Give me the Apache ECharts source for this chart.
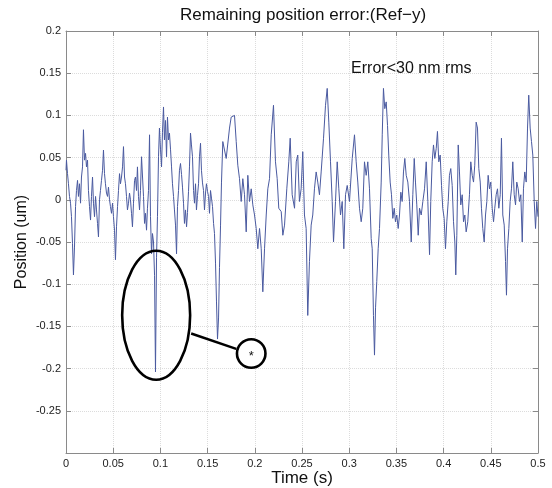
<!DOCTYPE html>
<html>
<head>
<meta charset="utf-8">
<script src="https://cdn.jsdelivr.net/npm/echarts@6/dist/echarts.min.js"></script>
<style>html,body{margin:0;padding:0;background:#fff}#c{width:552px;height:488px}</style>
</head>
<body>
<div id="c"></div>
<script>
// ---- Data (time in s, position error in um) ----
const time1 = [0,0.0005,0.0016,0.0026,0.0037,0.0048,0.0058,0.0069,0.0079,0.0090,0.0101,0.0111,0.0122,0.0132,0.0143,0.0154,0.0164,0.0175,0.0185,0.0196,0.0207,0.0217,0.0228,0.0238,0.0249,0.0260,0.0270,0.0281,0.0291,0.0302,0.0313,0.0323,0.0334,0.0344,0.0355,0.0365,0.0376,0.0387,0.0397,0.0408,0.0418,0.0429,0.0440,0.0450,0.0461,0.0471,0.0482,0.0493,0.0503,0.0514,0.0524,0.0535,0.0546,0.0556,0.0567,0.0577,0.0588,0.0599,0.0609,0.0620,0.0630,0.0641,0.0651,0.0662,0.0673,0.0683,0.0694,0.0704,0.0715,0.0726,0.0736,0.0747,0.0757,0.0768,0.0779,0.0789,0.0800];
const err1 = [0.035,0.047,0.031,0.019,0.004,-0.004,-0.02,-0.052,-0.089,-0.056,-0.008,0.011,0.023,0.004,0.019,-0.004,0.027,0.039,0.083,0.047,0.055,0.039,0.047,0.011,-0.008,-0.024,0.004,0.027,-0.004,-0.02,0.004,-0.012,-0.028,-0.044,0,0.011,0.023,0.035,0.059,0.031,0.019,0.008,0.004,0.015,0,-0.008,-0.016,-0.004,-0.02,-0.036,-0.071,-0.032,-0.008,0.011,0.031,0.019,0.027,0.039,0.063,0.027,0.019,0.004,-0.012,-0.004,0.008,0,-0.016,-0.032,-0.004,0.023,0.027,0.011,0.039,0.004,-0.012,0.011,0.051];

const time2 = [0.0810,0.0821,0.0832,0.0842,0.0853,0.0863,0.0874,0.0885,0.0895,0.0906,0.0916,0.0927,0.0938,0.0948,0.0959,0.0969,0.0980,0.0990,0.1001,0.1012,0.1022,0.1033,0.1043,0.1054,0.1065,0.1075,0.1086,0.1096,0.1107,0.1118,0.1128,0.1139,0.1149,0.1160,0.1171,0.1181,0.1192,0.1202,0.1213,0.1224,0.1234,0.1245,0.1255,0.1266,0.1277,0.1287,0.1298,0.1308,0.1319,0.1329,0.1340,0.1351,0.1361,0.1372,0.1382,0.1393,0.1404,0.1414,0.1425,0.1435,0.1446,0.1457,0.1467,0.1478,0.1488,0.1499,0.1510,0.1520,0.1531,0.1541,0.1552,0.1563,0.1573,0.1584,0.1594,0.1605,0.1616,0.1626,0.1637,0.1647];
const err2 = [0.051,0.004,-0.028,-0.016,-0.036,-0.01,0.011,0.077,-0.02,-0.064,-0.04,-0.05,-0.09,-0.204,-0.068,-0.02,0.051,0.085,0.06,0.039,0.08,0.110,0.071,0.094,0.051,0.098,0.071,0.079,0.06,0.039,0.019,0.004,-0.012,-0.03,-0.064,-0.008,0.011,0.035,0.043,0.03,0.015,-0.004,-0.028,-0.012,-0.032,-0.015,0.01,0.039,0.079,0.065,0.051,0.011,-0.004,0.019,-0.012,0.005,0.019,0.051,0.067,0.035,0.02,0.011,-0.012,0.008,0.019,0.01,0.004,-0.016,0.011,0.002,-0.008,-0.028,-0.04,-0.075,-0.12,-0.165,-0.14,-0.08,-0.03,0.02];

const time3 = [0.1661,0.1697,0.1732,0.1750,0.1785,0.1803,0.1820,0.1838,0.1856,0.1873,0.1891,0.1909,0.1926,0.1944,0.1962,0.1979,0.1997,0.2015,0.2032,0.2050,0.2068,0.2085,0.2103,0.2121,0.2138,0.2156,0.2174,0.2198,0.2219,0.2237,0.2254,0.2280,0.2297,0.2315,0.2339,0.2360,0.2375,0.2396,0.2421,0.2439,0.2455,0.2473,0.2491,0.2508,0.2526,0.2544,0.2561,0.2579,0.2597,0.2614,0.2632,0.2650,0.2667,0.2685,0.2703,0.2728,0.2749,0.2767,0.2784,0.2802,0.2820,0.2834,0.2855,0.2873,0.2890,0.2908,0.2926,0.2943,0.2961,0.2979,0.3003,0.3032,0.3056,0.3074,0.3091];
const err3 = [0.069,0.049,0.085,0.098,0.100,0.069,0.041,0.025,-0.002,0.025,0.006,-0.038,0.029,-0.002,0.013,-0.006,-0.018,-0.034,-0.058,-0.034,-0.058,-0.109,-0.058,-0.018,0.013,0.025,0.077,0.112,0.045,0.025,-0.010,-0.014,-0.042,-0.030,0.013,0.045,0.073,0.006,-0.010,0.045,0.053,-0.002,0.013,0.057,-0.018,-0.034,-0.137,-0.073,-0.030,-0.018,0.013,0.033,0.021,0.006,0.033,0.073,0.112,0.132,0.092,0.045,-0.002,-0.050,-0.002,0.045,0.013,-0.018,-0.002,-0.058,0.006,0.017,-0.002,0.049,0.077,0.045,0.021];

const time4 = [0.3109,0.3127,0.3144,0.3162,0.3180,0.3197,0.3215,0.3233,0.3244,0.3257,0.3268,0.3279,0.3292,0.3307,0.3321,0.3339,0.3350,0.3363,0.3377,0.3392,0.3406,0.3419,0.3434,0.3448,0.3462,0.3477,0.3490,0.3504,0.3519,0.3533,0.3547,0.3561,0.3575,0.3589,0.3604,0.3621,0.3639,0.3657,0.3674,0.3689,0.3702,0.3716,0.3731,0.3745,0.3763,0.3780,0.3798,0.3816,0.3833,0.3851,0.3864,0.3879,0.3893,0.3907,0.3922,0.3935,0.3949,0.3964,0.3978,0.3991,0.4006,0.4020,0.4034,0.4049,0.4062,0.4076,0.4091,0.4105,0.4119,0.4129,0.4140,0.4155,0.4168,0.4182,0.4197,0.4211,0.4225,0.4239,0.4256,0.4274,0.4288,0.4303,0.4317,0.4330,0.4345,0.4359,0.4373,0.4388,0.4401,0.4415,0.4430,0.4444,0.4458,0.4472,0.4486,0.4500,0.4515,0.4529,0.4542,0.4557,0.4571,0.4585,0.4600,0.4613,0.4627,0.4642,0.4656,0.4666,0.4677,0.4691,0.4705,0.4719,0.4733,0.4748,0.4762,0.4775,0.4790,0.4804,0.4818,0.4833,0.4846,0.4860,0.4875,0.4889,0.4902,0.4917,0.4931,0.4945,0.4960,0.4974,0.4987,0.5];
const err4 = [-0.010,-0.026,-0.010,0.045,0.029,0.045,0.013,-0.046,-0.058,-0.137,-0.184,-0.128,-0.097,-0.058,-0.034,0.021,0.077,0.132,0.108,0.116,0.088,0.053,0.021,0.006,-0.022,-0.010,-0.026,-0.018,-0.034,-0.018,0.009,-0.002,0.033,0.049,0.029,0.021,-0.002,-0.050,0.006,0.049,0.021,-0.006,-0.042,-0.010,-0.018,-0.002,0.013,0.045,-0.002,-0.065,-0.002,0.045,0.065,0.049,0.061,0.081,0.045,0.053,0.017,-0.010,-0.022,-0.058,-0.026,-0.002,0.029,0.037,0.017,-0.026,-0.050,-0.089,-0.042,0.065,0.033,-0.006,0.006,-0.026,-0.018,-0.038,-0.026,0.006,0.045,0.029,0.021,0.041,0.092,0.085,0.037,0.021,-0.010,-0.034,-0.050,-0.018,-0.002,0.029,0.013,0.021,-0.010,-0.026,-0.010,0.006,0.013,-0.010,0.006,0.073,-0.018,-0.030,-0.073,-0.113,-0.058,-0.034,-0.002,0.013,0.045,0.006,-0.006,0.021,0.013,-0.002,0.006,-0.050,0.013,0.033,0.021,0.085,0.124,0.085,0.069,0.053,-0.002,-0.034,-0.002,-0.02];

// Axis definitions
const xMin = 0, xMax = 0.5, xStep = 0.05;
const yMin = -0.3, yMax = 0.2, yStep = 0.05;

const titleText = 'Remaining position error:(Ref\u2212y)';
const noteText = 'Error<30 nm rms';
const xName = 'Time (s)';
const yName = 'Position (um)';

// Annotation anchors (data coordinates)
const notePos = [0.302, 0.156];
const ellipseCenter = [0.0955, -0.1368];
const ellipseRadius = [0.036, 0.0764];
const circleCenter = [0.1962, -0.1821];
const circleRadiusX = 0.0151;
const leaderFrom = [0.1326, -0.1584];
const leaderTo = [0.1803, -0.1765];

// ---- Build ----
const series = [];
[[time1, err1], [time2, err2], [time3, err3], [time4, err4]].forEach(([t, e]) => {
  const n = Math.min(t.length, e.length);
  for (let i = 0; i < n; i++) series.push([t[i], e[i]]);
});

const FONT = "'Liberation Sans', Arial, Helvetica, sans-serif";
const frame = { color: '#8a8a8a', width: 1 };
const chart = echarts.init(document.getElementById('c'));

function baseAxis(extra) {
  return Object.assign({
    type: 'value',
    axisLine: { show: true, onZero: false, lineStyle: frame },
    axisTick: { show: true, inside: true, length: 5, lineStyle: frame },
    splitLine: { show: false }
  }, extra);
}

const gridStyle = { type: 'dotted', color: '#dcdcdc', width: 1 };

chart.setOption({
  animation: false,
  backgroundColor: '#ffffff',
  title: {
    text: titleText, left: 303, top: 7, textAlign: 'center', padding: 0,
    textStyle: { fontFamily: FONT, fontSize: 17, fontWeight: 'normal', color: '#111' }
  },
  grid: { left: 66, right: 14, top: 31, bottom: 35, containLabel: false, outerBoundsMode: 'none' },
  xAxis: [
    baseAxis({
      min: xMin, max: xMax, interval: xStep, position: 'bottom',
      name: xName, nameLocation: 'middle', nameGap: 17, nameMoveOverlap: false,
      nameTextStyle: { fontFamily: FONT, fontSize: 17, color: '#111' },
      axisLabel: { fontFamily: FONT, fontSize: 11, color: '#222', margin: 5 },
      splitLine: { show: true, lineStyle: gridStyle }
    }),
    baseAxis({ min: xMin, max: xMax, interval: xStep, position: 'top', axisLabel: { show: false } })
  ],
  yAxis: [
    baseAxis({
      min: yMin, max: yMax, interval: yStep, position: 'left',
      name: yName, nameLocation: 'middle', nameGap: 36, nameMoveOverlap: false,
      nameTextStyle: { fontFamily: FONT, fontSize: 16, color: '#111' },
      axisLabel: {
        fontFamily: FONT, fontSize: 11, color: '#222', margin: 5,
        formatter: v => (Math.abs(v - yMin) < 1e-9 ? '' : String(parseFloat(v.toFixed(3))))
      },
      splitLine: { show: true, lineStyle: gridStyle }
    }),
    baseAxis({ min: yMin, max: yMax, interval: yStep, position: 'right', axisLabel: { show: false } })
  ],
  series: [{
    type: 'line', data: series, xAxisIndex: 0, yAxisIndex: 0,
    symbol: 'none', showSymbol: false, smooth: false,
    lineStyle: { color: '#4a5aa0', width: 1 }
  }]
});

// ---- Annotations positioned through the axes ----
const P = p => chart.convertToPixel({ gridIndex: 0 }, p);
const ec = P(ellipseCenter);
const ee = P([ellipseCenter[0] + ellipseRadius[0], ellipseCenter[1] + ellipseRadius[1]]);
const cc = P(circleCenter);
const cr = Math.abs(P([circleCenter[0] + circleRadiusX, circleCenter[1]])[0] - cc[0]);
const lf = P(leaderFrom), lt = P(leaderTo);
const np = P(notePos);

chart.setOption({
  graphic: [
    { type: 'ellipse', z: 100, shape: { cx: ec[0], cy: ec[1], rx: Math.abs(ee[0] - ec[0]), ry: Math.abs(ee[1] - ec[1]) },
      style: { fill: null, stroke: '#000', lineWidth: 2.6 } },
    { type: 'line', z: 100, shape: { x1: lf[0], y1: lf[1], x2: lt[0], y2: lt[1] },
      style: { stroke: '#000', lineWidth: 2.4 } },
    { type: 'circle', z: 100, shape: { cx: cc[0], cy: cc[1], r: cr },
      style: { fill: '#fff', stroke: '#000', lineWidth: 2.6 } },
    { type: 'text', z: 101, x: cc[0], y: cc[1] + 3,
      style: { text: '*', fontFamily: FONT, fontSize: 13, fill: '#111', align: 'center', verticalAlign: 'middle' } },
    { type: 'text', z: 101, x: np[0], y: np[1],
      style: { text: noteText, fontFamily: FONT, fontSize: 16, fill: '#111', align: 'left', verticalAlign: 'middle' } }
  ]
});
</script>
</body>
</html>
